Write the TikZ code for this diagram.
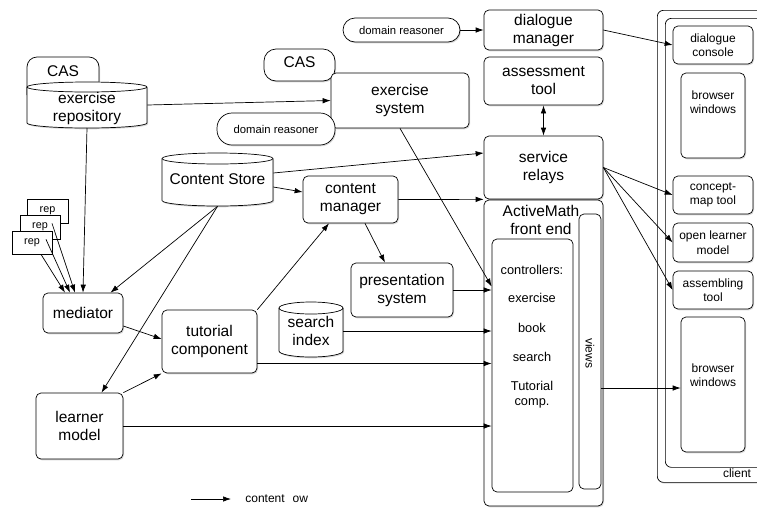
\documentclass[tikz,border=0pt]{standalone}
\usepackage{fontspec}
\setmainfont{Liberation Sans}
\usetikzlibrary{arrows.meta,shadows,calc}
\newcommand\fBig{\fontsize{15.5}{18}\selectfont}
\newcommand\fMid{\fontsize{12}{14.5}\selectfont}
\newcommand\fCtl{\fontsize{12.8}{15}\selectfont}
\newcommand\fSmall{\fontsize{11.3}{13}\selectfont}
\newcommand\fRep{\fontsize{10.8}{12}\selectfont}
\newcommand\drawcyl[5]{%
  \pgfmathsetmacro\cylrx{(#3-#1)/2}%
  \draw[fill=white,shad] (#1,#2+#5) -- (#1,#4-#5)
    arc[start angle=180,end angle=0,x radius=\cylrx,y radius=#5]
    -- (#3,#2+#5)
    arc[start angle=0,end angle=-180,x radius=\cylrx,y radius=#5] -- cycle;
  \draw (#1,#2+#5) arc[start angle=180,end angle=0,x radius=\cylrx,y radius=#5];
}
\begin{document}
\begin{tikzpicture}[x=1pt,y=-1pt,line width=0.7pt,
  >={Latex[length=8pt,width=5.5pt]},
  shad/.style={drop shadow={shadow xshift=1pt,shadow yshift=-1.3pt,opacity=0.3}},
  rbox/.style={draw,rounded corners=5pt,fill=white,shad,align=center,inner sep=0pt,font=\fBig},
  cbox/.style={draw,rounded corners=5pt,fill=white,shad,align=center,inner sep=0pt,font=\fMid},
  pill/.style={draw,rounded corners=12pt,fill=white,shad,align=center,inner sep=0pt,font=\fSmall},
  repbox/.style={draw,fill=white,shad,inner sep=0pt,font=\fRep},
  lbl/.style={inner sep=0pt,align=center},
  flow/.style={->}
]
\clip (0,0) rectangle (757,507);
\fill[white] (0,0) rectangle (757,507);

% ---------- client panel ----------
\node[draw,rounded corners=6pt,fill=white,shad,minimum width=110,minimum height=472,anchor=north west,inner sep=0pt] (clientout) at (657,10) {};
\node[draw,rounded corners=6pt,fill=white,minimum width=104,minimum height=449,anchor=north west,inner sep=0pt] (clientin) at (665,18) {};
\node[lbl,font=\fMid] (clientlbl) at (737,473) {client};
\node[cbox,minimum width=80,minimum height=38] (dconsole) at (713,45) {dialogue\\console};
\node[cbox,minimum width=64,minimum height=85] (bw1) at (713,115.5) {};
\node[lbl,font=\fMid] (bw1t) at (713,102) {browser\\windows};
\node[cbox,minimum width=80,minimum height=38] (concept) at (713,195) {concept-\\map tool};
\node[cbox,minimum width=80,minimum height=39] (olm) at (713,242.5) {open learner\\model};
\node[cbox,minimum width=80,minimum height=38] (assemb) at (713,290) {assembling\\tool};
\node[cbox,minimum width=64,minimum height=135] (bw2) at (713,384.5) {};
\node[lbl,font=\fMid] (bw2t) at (713,375) {browser\\windows};

% ---------- ActiveMath server side ----------
\node[pill,minimum width=117,minimum height=24] (dr1) at (401.5,30) {domain reasoner};
\node[rbox,minimum width=119,minimum height=40] (dialog) at (543.5,30) {dialogue\\manager};
\node[rbox,minimum width=119,minimum height=48] (assess) at (543.5,81) {assessment\\tool};
\node[rbox,minimum width=119,minimum height=63] (relays) at (543.5,167.5) {service\\relays};
\node[rbox,minimum width=119,minimum height=306] (front) at (543.5,353) {};
\node[lbl,font=\fBig] (frontt) at (541,220) {ActiveMath\\front end};
\node[draw,rounded corners=5pt,fill=white,inner sep=0pt,minimum width=81,minimum height=253] (ctrl) at (532.5,365.5) {};
\node[draw,rounded corners=5pt,fill=white,inner sep=0pt,minimum width=22,minimum height=275] (views) at (590,351.5) {};
\node[lbl,font=\fMid,rotate=-90] (viewst) at (590,353) {views};
\node[lbl,font=\fCtl] (c0) at (532,270) {controllers:};
\node[lbl,font=\fCtl] (c1) at (532,298) {exercise};
\node[lbl,font=\fCtl] (c2) at (532,328) {book};
\node[lbl,font=\fCtl] (c3) at (532,357) {search};
\node[lbl,font=\fCtl] (c4) at (532,395) {Tutorial\\comp.};

\node[draw,rounded corners=12pt,fill=white,shad,minimum width=71,minimum height=32,inner sep=0pt] (cas2) at (299.5,65) {};
\node[lbl,font=\fBig] (cas2t) at (299.5,62) {CAS};
\node[rbox,minimum width=138,minimum height=55] (exsys) at (400,100.5) {exercise\\system};
\node[pill,rounded corners=15pt,minimum width=118,minimum height=32] (dr2) at (276,129) {domain reasoner};

\node[rbox,minimum width=95,minimum height=47] (contman) at (350.5,199.5) {content\\manager};
\node[rbox,minimum width=102,minimum height=54] (pres) at (402,290) {presentation\\system};
\node[rbox,minimum width=95,minimum height=63] (tutor) at (209.5,341.5) {tutorial\\component};
\node[rbox,minimum width=80,minimum height=40] (mediator) at (83,313) {mediator};
\node[rbox,minimum width=87,minimum height=66] (learner) at (79.5,426) {learner\\model};

% ---------- stores ----------
\draw[fill=white,shad,rounded corners=10pt] (27,95) -- (27,57) -- (99,57) -- (99,95);
\node[lbl,font=\fBig] (cas1) at (63,71) {CAS};
\drawcyl{27}{82}{147}{128}{5}
\node[lbl,font=\fBig,minimum width=120,minimum height=46] (exrepo) at (87,108) {exercise\\repository};
\drawcyl{162}{153}{273}{206}{5.5}
\node[lbl,font=\fBig,minimum width=111,minimum height=53] (cs) at (217.5,179.5) {Content Store};
\drawcyl{279}{302}{343}{357}{6}
\node[lbl,font=\fBig,minimum width=64,minimum height=55] (si) at (311,331) {search\\index};

\node[repbox,minimum width=41,minimum height=24] (rep1) at (47.5,211) {rep};
\node[repbox,minimum width=40,minimum height=24] (rep2) at (40,227) {rep};
\node[repbox,minimum width=40,minimum height=23] (rep3) at (32,242.5) {rep};

% ---------- connectors ----------
\draw[flow] (dr1.east) -- (dialog.west);
\draw[flow] (dialog.east) -- (dconsole.west);
\draw[<->] (assess.south) -- (relays.north);
\draw[flow] ([yshift=3pt]exrepo.east) -- (exsys.west);
\draw[flow] (87,128) -- (mediator.north);
\draw[flow] ([xshift=4.5pt]rep1.south) -- ([xshift=-8pt]mediator.north);
\draw[flow] ([xshift=6pt]rep2.south) -- ([xshift=-13pt]mediator.north);
\draw[flow] ([xshift=9pt]rep3.south) -- ([xshift=-18pt]mediator.north);
\draw[flow] (cs.south) -- ($(mediator.north)!0.68!(mediator.north east)$);
\draw[flow] (cs.south) -- ([xshift=22pt]learner.north);
\draw[flow] ([yshift=6.5pt]cs.east) -- ([yshift=14.5pt]relays.west);
\draw[flow] ([yshift=-7.5pt]cs.east) -- ([yshift=7.5pt]contman.west);
\draw[flow] (contman.east) -- (relays.south west);
\draw[flow] ([xshift=14.5pt]contman.south) -- ([xshift=-17pt]pres.north);
\draw[flow] (tutor.north east) -- ([xshift=-21.5pt]contman.south);
\draw[flow] ([yshift=-13pt]mediator.east) -- ([yshift=2.5pt]tutor.west);
\draw[flow] (learner.north east) -- (tutor.south west);
\draw[flow] (learner.east) -- (learner.east -| ctrl.west);
\coordinate (tutout) at ([yshift=-22pt]tutor.east);
\draw[flow] (tutout) -- (tutout -| ctrl.west);
\draw[flow] (si.east) -- (si.east -| ctrl.west);
\draw[flow] (pres.east) -- (pres.east -| ctrl.west);
\draw[flow] (exsys.south) -- ([yshift=79pt]ctrl.west);
\draw[flow] (relays.east) -- (concept.west);
\draw[flow] (relays.east) -- (olm.west);
\draw[flow] (relays.east) -- (assemb.west);
\coordinate (viewout) at ([yshift=-36.5pt]views.east);
\draw[flow] (viewout) -- (viewout -| bw2.west);

% ---------- legend ----------
\coordinate (leg1) at (191,499);
\coordinate (leg2) at (231,499);
\draw[flow] (leg1) -- (leg2);
\node[lbl,font=\fMid,anchor=west] (legt) at (245,499) {content\hspace{8pt}ow};
\end{tikzpicture}
\end{document}
